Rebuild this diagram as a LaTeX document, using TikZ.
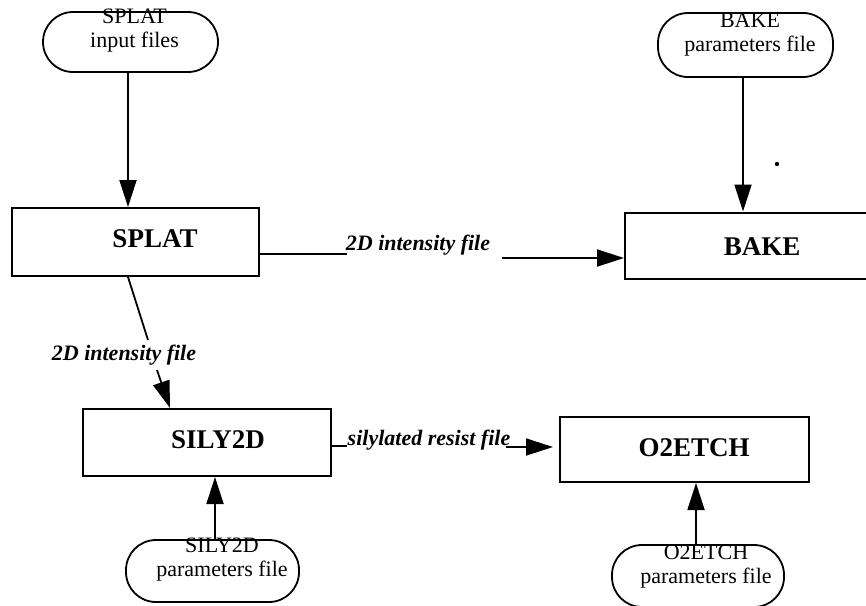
\documentclass[tikz,border=0pt]{standalone}
\usepackage{fontspec}
\setmainfont{Liberation Serif}
\usetikzlibrary{arrows.meta, calc}

\begin{document}
\begin{tikzpicture}[
  x=0.5pt, y=-0.5pt,
  box/.style={draw, line width=1pt, inner sep=0pt, minimum height=33pt},
  term/.style={draw, line width=0.9pt, rounded corners=15pt, inner sep=0pt,
               minimum height=31pt},
  boxtext/.style={font=\fontsize{13.5}{15}\selectfont\bfseries, inner sep=0pt},
  termtext/.style={font=\fontsize{11}{12}\selectfont, align=center, inner sep=0pt},
  lbl/.style={font=\fontsize{11}{13}\selectfont\bfseries\itshape, inner sep=0pt},
  arr/.style={-{Triangle[length=13.5pt, width=8.5pt]}, line width=0.9pt},
  plain/.style={line width=0.9pt}
]
  \useasboundingbox (0,0) rectangle (866,605);
  \clip (0,0) rectangle (866,605);

  %% Input files (terminals)
  \node[term, minimum width=87.5pt, minimum height=30pt] (splatin) at (130.5, 42) {};
  \node[term, minimum width=87.5pt, minimum height=32pt] (bakein)  at (745.5, 45) {};
  \node[term, minimum width=86.5pt]                      (silyin)  at (212.5,571) {};
  \node[term, minimum width=86pt]                        (o2in)    at (698,  576) {};
  \node[termtext] (splatintxt) at (134.5, 30.5) {SPLAT\\input files};
  \node[termtext] (bakeintxt)  at (750,   35)   {BAKE\\parameters file};
  \node[termtext] (silyintxt)  at (222,  560)   {SILY2D\\parameters file};
  \node[termtext] (o2intxt)    at (706,  566.5) {O2ETCH\\parameters file};

  %% Programs
  \node[box, minimum width=123.5pt, minimum height=34pt]   (splat)  at (135.5,242)   {};
  \node[box, minimum width=142pt]                          (bake)   at (767,  245.5) {};
  \node[box, minimum width=124pt, minimum height=33.5pt]   (sily2d) at (207,  442.5) {};
  \node[box, minimum width=124.5pt, minimum height=32.5pt] (o2etch) at (684.5,449.5) {};
  \node[boxtext] (splattxt)  at (155,239) {SPLAT};
  \node[boxtext] (baketxt)   at (762,247) {BAKE};
  \node[boxtext] (sily2dtxt) at (218,440) {SILY2D};
  \node[boxtext] (o2etchtxt) at (694,448) {O2ETCH};

  %% File labels
  \node[lbl] (lblsb) at (418,245) {2D intensity file};
  \node[lbl] (lblss) at (124,355) {2D intensity file};
  \node[lbl] (lblso) at (429,440) {silylated resist file};

  \coordinate (sbA) at (347,254);
  \coordinate (sbB) at (502,258);
  \coordinate (ssA) at (148,340);
  \coordinate (ssB) at (157,370);
  \coordinate (soA) at (347,446);
  \coordinate (soB) at (506,447);

  %% Arrows
  \draw[arr] ([xshift=-1.25pt]splatin.south) -- ([xshift=-1.25pt]splatin.south |- splat.north);
  \draw[arr] ([xshift=-1.25pt]bakein.south)  -- ([xshift=-1.25pt]bakein.south |- bake.north);
  \draw[arr] ([xshift=1.25pt]silyin.north)   -- ([xshift=1.25pt]silyin.north |- sily2d.south);
  \draw[arr] ([xshift=-1pt]o2in.north)       -- ([xshift=-1pt]o2in.north |- o2etch.south);

  \draw[plain] ([yshift=-6pt]splat.east) -- (sbA);
  \draw[arr]   (sbB) -- ([yshift=-6.25pt]bake.west);
  \draw[plain] ([xshift=-3.75pt]splat.south) -- (ssA);
  \draw[arr]   (ssB) -- ([xshift=-18.5pt]sily2d.north);
  \draw[plain] ([yshift=-1.75pt]sily2d.east) -- (soA);
  \draw[arr]   (soB) -- ([xshift=-3pt, yshift=1.25pt]o2etch.west);

  \fill (777,164) circle (1.1pt);
\end{tikzpicture}
\end{document}
